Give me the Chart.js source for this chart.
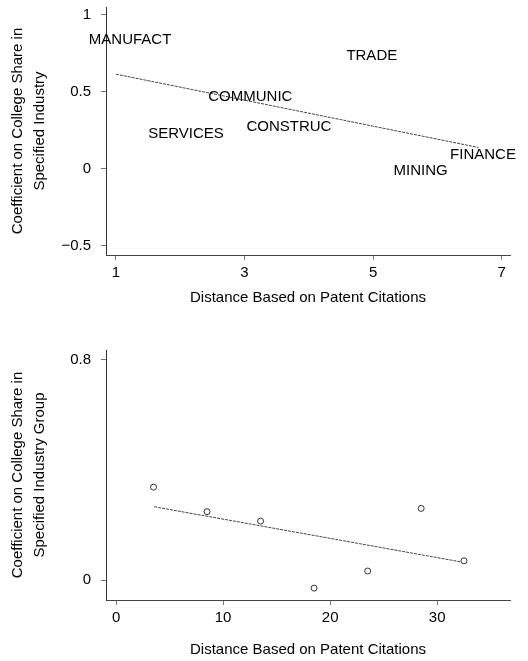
<!DOCTYPE html>
<html lang="en">
<head>
  <meta charset="UTF-8">
  <title>College Share vs Patent Citation Distance</title>
  <script src="https://cdn.jsdelivr.net/npm/chart.js@4"></script>
  <style>
    body { margin: 0; background: #fff; }
    #wrap { position: relative; width: 528px; height: 661px; }
    canvas { position: absolute; left: 0; }
    #topChart { top: 0; }
    #bottomChart { top: 320px; }
  </style>
</head>
<body>
<div id="wrap">
  <canvas id="topChart" width="528" height="320"></canvas>
  <canvas id="bottomChart" width="528" height="341"></canvas>
</div>

<script>
// top panel: industries, label used as the marker
const industries = ['MANUFACT', 'TRADE', 'COMMUNIC', 'SERVICES', 'CONSTRUC', 'MINING', 'FINANCE'];
const industryDist = [1.22, 4.98, 3.09, 2.09, 3.69, 5.74, 6.71];
const industryCoef = [0.835, 0.736, 0.467, 0.229, 0.273, -0.016, 0.091];
const industryFitX = [1, 6.64];
const industryFitY = [0.614, 0.138];
const topXTicks = [1, 3, 5, 7];
const topYTicks = [-0.5, 0, 0.5, 1];

// bottom panel: industry groups
const groupDist = [3.5, 8.5, 13.5, 18.5, 23.5, 28.5, 32.5];
const groupCoef = [0.337, 0.248, 0.214, -0.029, 0.033, 0.26, 0.07];
const groupFitX = [3.56, 32.24];
const groupFitY = [0.266, 0.066];
const bottomXTicks = [0, 10, 20, 30];
const bottomYTicks = [0, 0.8];

const xTitle = 'Distance Based on Patent Citations';
const topYTitle = ['Coefficient on College Share in', 'Specified Industry'];
const bottomYTitle = ['Coefficient on College Share in', 'Specified Industry Group'];

Chart.defaults.font.family = '"Liberation Sans", Arial, sans-serif';
Chart.defaults.font.size = 15;
Chart.defaults.color = '#000';

function pairs(xs, ys) {
  return xs.map((x, i) => ({ x: x, y: ys[i] }));
}

function fmt(v) {
  return v < 0 ? '\u2212' + Math.abs(v) : String(v);
}

// draw the industry names where the points are
const textLabels = {
  id: 'textLabels',
  afterDatasetsDraw(chart) {
    const meta = chart.getDatasetMeta(0);
    const ctx = chart.ctx;
    ctx.save();
    ctx.font = '15px "Liberation Sans", Arial, sans-serif';
    ctx.fillStyle = '#000';
    ctx.textAlign = 'center';
    ctx.textBaseline = 'middle';
    meta.data.forEach((pt, i) => ctx.fillText(industries[i], pt.x, pt.y));
    ctx.restore();
  }
};

function makeScales(xmin, xmax, xticks, ymin, ymax, yticks, ytitle, xHeight, titlePad) {
  return {
    x: {
      type: 'linear', min: xmin, max: xmax,
      afterBuildTicks: s => { s.ticks = xticks.map(v => ({ value: v })); },
      afterFit: s => { s.height = xHeight; s.paddingLeft = 0; s.paddingRight = 0; },
      ticks: { padding: 4, callback: v => fmt(v), maxRotation: 0 },
      grid: { display: true, drawOnChartArea: false, drawTicks: true, tickLength: 5, color: '#777' },
      border: { display: true, color: '#444', width: 1, dash: [1, 1] },
      title: { display: true, text: xTitle, padding: { top: 0, bottom: titlePad } }
    },
    y: {
      type: 'linear', min: ymin, max: ymax,
      afterBuildTicks: s => { s.ticks = yticks.map(v => ({ value: v })); },
      afterFit: s => { s.width = 106; s.paddingTop = 0; s.paddingBottom = 0; },
      ticks: { padding: 10, callback: v => fmt(v) },
      grid: { display: true, drawOnChartArea: false, drawTicks: true, tickLength: 5, color: '#777' },
      border: { display: true, color: '#333', width: 1 },
      title: { display: true, text: ytitle, padding: { top: 7, bottom: 0 }, font: { size: 15, lineHeight: 1.47 } }
    }
  };
}

const commonPlugins = { legend: { display: false }, tooltip: { enabled: false } };

new Chart(document.getElementById('topChart'), {
  type: 'scatter',
  data: {
    datasets: [
      { data: pairs(industryDist, industryCoef), pointRadius: 0 },
      { type: 'line', data: pairs(industryFitX, industryFitY), borderColor: '#444', borderWidth: 1,
        borderDash: [3, 1], pointRadius: 0, fill: false }
    ]
  },
  options: {
    responsive: false, animation: false, devicePixelRatio: 1,
    layout: { padding: { top: 7, right: 18, bottom: 0, left: 0 } },
    scales: makeScales(0.845, 7.13, topXTicks, -0.56, 1.05, topYTicks, topYTitle, 65, 13),
    plugins: commonPlugins
  },
  plugins: [textLabels]
});

new Chart(document.getElementById('bottomChart'), {
  type: 'scatter',
  data: {
    datasets: [
      { data: pairs(groupDist, groupCoef), pointRadius: 3, pointBorderWidth: 1,
        pointBorderColor: '#333', pointBackgroundColor: '#fff' },
      { type: 'line', data: pairs(groupFitX, groupFitY), borderColor: '#444', borderWidth: 1,
        borderDash: [3, 1], pointRadius: 0, fill: false }
    ]
  },
  options: {
    responsive: false, animation: false, devicePixelRatio: 1,
    layout: { padding: { top: 30, right: 18, bottom: 0, left: 0 } },
    scales: makeScales(-0.94, 36.8, bottomXTicks, -0.072, 0.834, bottomYTicks, bottomYTitle, 61, 2),
    plugins: commonPlugins
  }
});
</script>
</body>
</html>
